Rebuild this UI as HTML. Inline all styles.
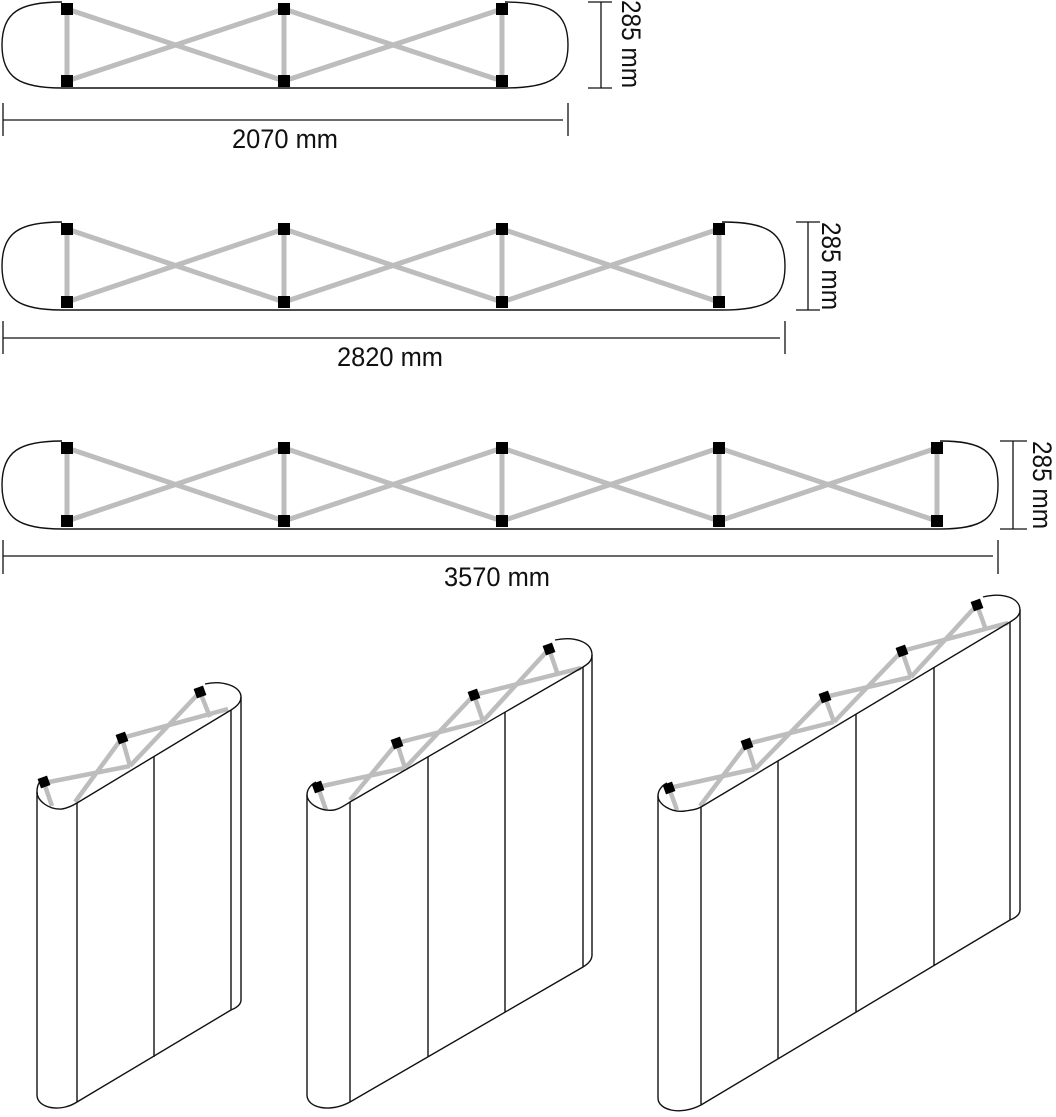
<!DOCTYPE html>
<html><head><meta charset="utf-8"><style>
html,body{margin:0;padding:0;background:#fff;}
svg{display:block;}
text{font-family:"Liberation Sans Narrow","Liberation Sans",sans-serif;fill:#111;}
</style></head><body>
<svg width="1056" height="1117" viewBox="0 0 1056 1117" xmlns="http://www.w3.org/2000/svg">
<g fill="none" stroke="#111" stroke-width="1.4">
<!-- Row 1 outline -->
<path d="M62,2 C20,2 2,12 2,45 C2,78 20,88 62,88 L505,88 C550,88 568,78 568,45 C568,12 550,2 505,2"/>
<!-- Row 2 -->
<path d="M62,222 C20,222 2,232 2,266 C2,300 20,310 62,310 L722,310 C767,310 785,300 785,266 C785,232 767,222 722,222"/>
<!-- Row 3 -->
<path d="M62,441 C20,441 2,451 2,485 C2,519 20,529 62,529 L940,529 C982,529 998,519 998,485 C998,451 982,441 940,441"/>
</g>
<g stroke="#bdbdbd" stroke-width="5" fill="none">
<!-- Row1 bars -->
<path d="M67,9 L67,81 M284,9 L284,81 M502,9 L502,81 M67,9 L284,81 M67,81 L284,9 M284,9 L502,81 M284,81 L502,9"/>
<path d="M67,229 L67,302 M284,229 L284,302 M502,229 L502,302 M719,229 L719,302 M67,229 L284,302 M67,302 L284,229 M284,229 L502,302 M284,302 L502,229 M502,229 L719,302 M502,302 L719,229"/>
<path d="M67,448 L67,521 M284,448 L284,521 M502,448 L502,521 M719,448 L719,521 M937,448 L937,521 M67,448 L284,521 M67,521 L284,448 M284,448 L502,521 M284,521 L502,448 M502,448 L719,521 M502,521 L719,448 M719,448 L937,521 M719,521 L937,448"/>
</g>
<g fill="#000">
<rect x="61" y="3" width="12" height="12"/><rect x="278" y="3" width="12" height="12"/><rect x="496" y="3" width="12" height="12"/>
<rect x="61" y="75" width="12" height="12"/><rect x="278" y="75" width="12" height="12"/><rect x="496" y="75" width="12" height="12"/>
<rect x="61" y="223" width="12" height="12"/><rect x="278" y="223" width="12" height="12"/><rect x="496" y="223" width="12" height="12"/><rect x="713" y="223" width="12" height="12"/>
<rect x="61" y="296" width="12" height="12"/><rect x="278" y="296" width="12" height="12"/><rect x="496" y="296" width="12" height="12"/><rect x="713" y="296" width="12" height="12"/>
<rect x="61" y="442" width="12" height="12"/><rect x="278" y="442" width="12" height="12"/><rect x="496" y="442" width="12" height="12"/><rect x="713" y="442" width="12" height="12"/><rect x="931" y="442" width="12" height="12"/>
<rect x="61" y="515" width="12" height="12"/><rect x="278" y="515" width="12" height="12"/><rect x="496" y="515" width="12" height="12"/><rect x="713" y="515" width="12" height="12"/><rect x="931" y="515" width="12" height="12"/>
</g>
<!-- Dimensions -->
<g stroke="#111" stroke-width="1.3" fill="none">
<path d="M3,103 L3,136 M3,120 L563,120 M568,103 L568,136"/>
<path d="M601,2 L601,88 M588,2 L612,2 M588,88 L612,88"/>
<path d="M3,321 L3,354 M3,338 L780,338 M785,321 L785,354"/>
<path d="M808,222 L808,310 M796,222 L820,222 M796,310 L820,310"/>
<path d="M3,540 L3,574 M3,556 L993,556 M998,540 L998,574"/>
<path d="M1013,441 L1013,529 M1000,441 L1027,441 M1000,529 L1027,529"/>
</g>
<g font-size="27">
<text x="232" y="148" textLength="106" lengthAdjust="spacingAndGlyphs">2070 mm</text>
<text x="337" y="366" textLength="106" lengthAdjust="spacingAndGlyphs">2820 mm</text>
<text x="444" y="586" textLength="106" lengthAdjust="spacingAndGlyphs">3570 mm</text>
<text transform="translate(622,0) rotate(90)" textLength="88" lengthAdjust="spacingAndGlyphs">285 mm</text>
<text transform="translate(822,222) rotate(90)" textLength="88" lengthAdjust="spacingAndGlyphs">285 mm</text>
<text transform="translate(1033,441) rotate(90)" textLength="88" lengthAdjust="spacingAndGlyphs">285 mm</text>
</g>

<!-- Iso 1 -->
<g stroke="#bdbdbd" stroke-width="4.5" fill="none" stroke-linecap="butt">
<path d="M44,783 L52,806 M122,738 L130,766 M200,692 L210,717 M44,783 L130,766 M75,802 L122,738 M122,738 L228,709 M130,766 L200,692"/>
<path d="M318,787 L326,810 M397,743 L405,768 M474,695 L483,721 M549,649 L558,675 M318,787 L405,768 M350,800 L397,743 M397,743 L483,721 M405,768 L474,695 M474,695 L581,668 M483,721 L549,649"/>
<path d="M669,788 L677,810 M747,744 L755,769 M825,697 L834,722 M902,651 L911,677 M977,605 L986,630 M669,788 L755,769 M700,806 L747,744 M747,744 L834,722 M755,769 L825,697 M825,697 L911,677 M834,722 L902,651 M902,651 L1008,623 M911,677 L977,605"/>
</g>
<g stroke="#111" stroke-width="1.4" fill="none">
<path d="M44,778 C38,782 37,787 37,792 C37,800 48,810 62,809 C68,808 72,806 77,803 L231,710"/>
<path d="M205,684 C222,680 241,686 241,697 C241,703 236,707 231,710"/>
<path d="M37,792 L37,1095 C37,1108 60,1113 77,1102 L231,1010 M77,803 L77,1102 M231,710 L231,1010 M241,697 L241,1000 C241,1005 236,1008 231,1010 M154,757 L154,1057"/>

<path d="M316,782 C310,785 307,790 307,795 C307,803 320,812 334,810 C340,809 345,805 350,802 L583,667"/>
<path d="M555,640 C575,636 592,642 592,655 C592,661 588,664 583,667"/>
<path d="M307,795 L307,1095 C307,1108 330,1113 350,1102 L583,967 M350,802 L350,1102 M583,667 L583,967 M592,655 L592,955 C592,960 588,964 583,967 M428,757 L428,1057 M505,712 L505,1012"/>

<path d="M667,783 C661,786 658,791 658,796 C658,804 671,813 685,811 C691,810 696,810 701,807 L1010,622"/>
<path d="M983,597 C1003,592 1020,598 1020,610 C1020,616 1015,619 1010,622"/>
<path d="M658,796 L658,1098 C658,1110 680,1116 701,1105 L1010,920 M701,807 L701,1105 M1010,622 L1010,920 M1020,610 L1020,910 C1020,915 1015,918 1010,920 M778,761 L778,1059 M856,714 L856,1012 M934,667 L934,965"/>
</g>
<g fill="#000">
<rect x="-5" y="-5" width="10" height="10" transform="translate(44,782) rotate(-20)"/>
<rect x="-5" y="-5" width="10" height="10" transform="translate(122,738) rotate(-20)"/>
<rect x="-5" y="-5" width="10" height="10" transform="translate(200,692) rotate(-20)"/>
<rect x="-5" y="-5" width="10" height="10" transform="translate(318,787) rotate(-20)"/>
<rect x="-5" y="-5" width="10" height="10" transform="translate(397,743) rotate(-20)"/>
<rect x="-5" y="-5" width="10" height="10" transform="translate(474,695) rotate(-20)"/>
<rect x="-5" y="-5" width="10" height="10" transform="translate(549,649) rotate(-20)"/>
<rect x="-5" y="-5" width="10" height="10" transform="translate(669,788) rotate(-20)"/>
<rect x="-5" y="-5" width="10" height="10" transform="translate(747,744) rotate(-20)"/>
<rect x="-5" y="-5" width="10" height="10" transform="translate(825,697) rotate(-20)"/>
<rect x="-5" y="-5" width="10" height="10" transform="translate(902,651) rotate(-20)"/>
<rect x="-5" y="-5" width="10" height="10" transform="translate(977,605) rotate(-20)"/>
</g>
</svg>
</body></html>
